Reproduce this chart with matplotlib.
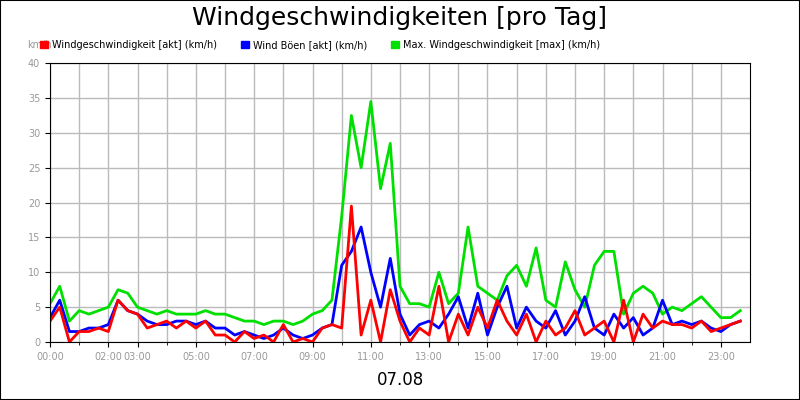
import matplotlib
matplotlib.use("Agg")
import matplotlib.pyplot as plt
from matplotlib.patches import Patch
import numpy as np

hours = np.arange(72) / 3.0
max_wind = [5.5,8,3, 4.5,4,4.5, 5,7.5,7, 5,4.5,4, 4.5,4,4, 4,4.5,4, 4,3.5,3, 3,2.5,3,
            3,2.5,3, 4,4.5,6, 18,32.5,25, 34.5,22,28.5, 8,5.5,5.5, 5,10,5.5, 7,16.5,8,
            7,6,9.5, 11,8,13.5, 6,5,11.5, 7.5,5,11, 13,13,4, 7,8,7, 4,5,4.5, 5.5,6.5,5, 3.5,3.5,4.5]
gust = [3.5,6,1.5, 1.5,2,2, 2.5,6,4.5, 4,3,2.5, 2.5,3,3, 2.5,3,2, 2,1,1.5, 1,0.5,1,
        2,1,0.5, 1,2,2.5, 11,13,16.5, 10,5,12, 4,1,2.5, 3,2,4, 6.5,2,7,
        1,5,8, 2,5,3, 2,4.5,1, 3,6.5,2, 1,4,2, 3.5,1,2, 6,2.5,3, 2.5,3,2, 1.5,2.5,3]
wind = [3,5,0, 1.5,1.5,2, 1.5,6,4.5, 4,2,2.5, 3,2,3, 2,3,1, 1,0,1.5, 0.5,1,0,
        2.5,0,0.5, 0,2,2.5, 2,19.5,1, 6,0,7.5, 3,0,2, 1,8,0, 4,1,5, 2,6,3,
        1,4,0, 3,1,2, 4.5,1,2, 3,0,6, 0,4,2, 3,2.5,2.5, 2,3,1.5, 2,2.5,3]
tick_pos = [0,2,3,5,7,9,11,13,15,17,19,21,23]
tick_lbl = ["00:00","02:00","03:00","05:00","07:00","09:00","11:00","13:00","15:00","17:00","19:00","21:00","23:00"]

fig = plt.figure(figsize=(8,4), dpi=100)
fig.patches.append(plt.Rectangle((0,0),1,1,transform=fig.transFigure,fill=False,edgecolor='black',lw=1.5))
ax = fig.add_axes([0.0625, 0.145, 0.875, 0.697])
ax.plot(hours, max_wind, color='#00e000', lw=2)
ax.plot(hours, gust, color='#0000ff', lw=2)
ax.plot(hours, wind, color='#ff0000', lw=2)
ax.set_xlim(0, 24)
ax.set_ylim(0, 40)
ax.set_xticks(tick_pos)
ax.set_xticklabels(tick_lbl, fontsize=7, color='#999999')
ax.set_xticks(np.arange(0,24,1), minor=True)
ax.set_yticks(np.arange(0,41,5))
ax.tick_params(axis='y', labelsize=7, labelcolor='#999999')
ax.grid(True, which='both', color='#bbbbbb', lw=1)
ax.set_axisbelow(True)
fig.text(0.5, 0.955, 'Windgeschwindigkeiten [pro Tag]', ha='center', va='center', fontsize=18)
fig.text(0.034, 0.88, 'km/h', fontsize=7, color='#999999')
fig.text(0.5, 0.05, '07.08', ha='center', va='center', fontsize=12)
handles = [Patch(color='#ff0000'), Patch(color='#0000ff'), Patch(color='#00e000')]
labels = ['Windgeschwindigkeit [akt] (km/h)', 'Wind Böen [akt] (km/h)', 'Max. Windgeschwindigkeit [max] (km/h)']
fig.legend(handles, labels, loc='center', bbox_to_anchor=(0.4, 0.888), ncol=3, frameon=False,
           fontsize=7, handlelength=0.8, handleheight=0.8, columnspacing=2.5, handletextpad=0.4)
fig.savefig('out.png')
